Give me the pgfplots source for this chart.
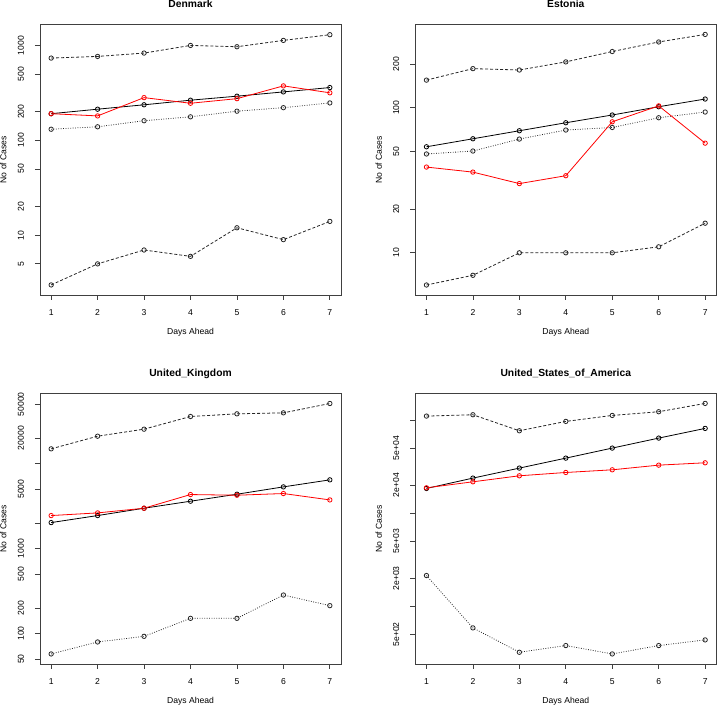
\documentclass[border=0pt]{standalone}
\usepackage{fontspec}
\setmainfont{Liberation Sans}
\usepackage{graphicx}
\usepackage{pgfplots}
\pgfplotsset{compat=1.18}
\newcommand{\yl}[1]{\rotatebox{90}{\fontsize{8.6}{10}\selectfont #1}\hspace*{7.5pt}}
\pgfplotsset{
  scale only axis, width=301pt, height=270.7pt,
  xmin=0.76, xmax=7.24,
  xtick={1,2,3,4,5,6,7}, xticklabels={1,2,3,4,5,6,7},
  tick align=outside, xtick pos=left, ytick pos=left,
  major tick length=5pt,
  axis line style={black!75, line width=0.8pt},
  tick style={black!75, line width=0.8pt},
  label style={font=\fontsize{8.6}{10}\selectfont},
  xlabel style={at={(axis description cs:0.5,0)}, anchor=base, yshift=-40pt},
  ylabel style={at={(axis description cs:-0.1113,0.5)}, anchor=base},
  every axis title shift=0pt,
  title style={at={(axis description cs:0.5,1)}, anchor=base, yshift=16.3pt, font=\bfseries\fontsize{10.3}{12}\selectfont},
}
\tikzset{
 rpt/.style={line width=0.8pt, mark=o, mark size=2.2pt, mark options={solid, fill=white}},
 predl/.style={rpt, black},
 bndl/.style={rpt, black!85, dash pattern=on 3pt off 2pt},
 dotl/.style={rpt, black!85, dash pattern=on 0.8pt off 1.6pt},
 actl/.style={rpt, red},
}
\begin{document}
\begin{tikzpicture}
\useasboundingbox (0,0) rectangle (717pt,706pt);
% Denmark
\begin{axis}[at={(40pt,411pt)}, anchor=south west, title={Denmark},
  xlabel={Days Ahead}, ylabel={No of Cases},
  xticklabel style={font=\fontsize{8.6}{10}\selectfont, anchor=base, yshift=-16pt},
  ymode=log, yminorticks=false,
  ymin=2.35, ymax=1670,
  ytick={5,10,20,50,100,200,500,1000},
  yticklabels={\yl{5},\yl{10},\yl{20},\yl{50},\yl{100},\yl{200},\yl{500},\yl{1000}}]
\addplot[bndl] coordinates {(1,736) (2,766) (3,831) (4,1000) (5,969) (6,1130) (7,1297)};
\addplot[bndl] coordinates {(1,3) (2,5) (3,7) (4,6) (5,12) (6,9) (7,14)};
\addplot[dotl] coordinates {(1,131) (2,139) (3,161) (4,177) (5,203) (6,221) (7,248)};
\addplot[predl] coordinates {(1,191) (2,213) (3,237) (4,265) (5,292) (6,324) (7,360)};
\addplot[actl] coordinates {(1,191) (2,181) (3,282) (4,246) (5,275) (6,375) (7,317)};
\end{axis}
% Estonia
\begin{axis}[at={(415.3pt,411pt)}, anchor=south west, title={Estonia},
  xlabel={Days Ahead}, ylabel={No of Cases},
  xticklabel style={font=\fontsize{8.6}{10}\selectfont, anchor=base, yshift=-16pt},
  ymode=log, yminorticks=false,
  ymin=5.12, ymax=376,
  ytick={10,20,50,100,200},
  yticklabels={\yl{10},\yl{20},\yl{50},\yl{100},\yl{200}}]
\addplot[bndl] coordinates {(1,155) (2,186) (3,182) (4,207) (5,244) (6,284) (7,320)};
\addplot[bndl] coordinates {(1,6) (2,7) (3,10) (4,10) (5,10) (6,11) (7,16)};
\addplot[dotl] coordinates {(1,48) (2,50.3) (3,60.8) (4,70.2) (5,73.1) (6,85.3) (7,93.4)};
\addplot[predl] coordinates {(1,53.8) (2,61.1) (3,69.4) (4,78.8) (5,89.1) (6,101.6) (7,114.8)};
\addplot[actl] coordinates {(1,39) (2,36) (3,30) (4,34) (5,80) (6,103) (7,57)};
\end{axis}
% United Kingdom
\begin{axis}[at={(40pt,42pt)}, anchor=south west, title={United\_Kingdom},
  xlabel={Days Ahead}, ylabel={No of Cases},
  xticklabel style={font=\fontsize{8.6}{10}\selectfont, anchor=base, yshift=-16pt},
  ymode=log, yminorticks=false,
  ymin=43.8, ymax=67300,
  ytick={50,100,200,500,1000,2000,5000,10000,20000,50000},
  yticklabels={\yl{50},\yl{100},\yl{200},\yl{500},\yl{1000},,\yl{5000},,\yl{20000},\yl{50000}}]
\addplot[bndl] coordinates {(1,14930) (2,21040) (3,25450) (4,35890) (5,38560) (6,39620) (7,51050)};
\addplot[dotl] coordinates {(1,57.5) (2,79.6) (3,92.7) (4,151) (5,151) (6,284) (7,213)};
\addplot[predl] coordinates {(1,2024) (2,2448) (3,2986) (4,3611) (5,4365) (6,5326) (7,6442)};
\addplot[actl] coordinates {(1,2448) (2,2631) (3,2986) (4,4326) (5,4248) (6,4446) (7,3742)};
\end{axis}
% United States of America
\begin{axis}[at={(415.3pt,42pt)}, anchor=south west, title={United\_States\_of\_America},
  xlabel={Days Ahead}, ylabel={No of Cases},
  xticklabel style={font=\fontsize{8.6}{10}\selectfont, anchor=base, yshift=-16pt},
  ymode=log, yminorticks=false,
  ymin=241, ymax=193000,
  ytick={500,1000,2000,5000,10000,20000,50000,100000},
  yticklabels={\yl{5e+02},,\yl{2e+03},\yl{5e+03},,\yl{2e+04},\yl{5e+04},}]
\addplot[bndl] coordinates {(1,109900) (2,113600) (3,76500) (4,96400) (5,111700) (6,122400) (7,150300)};
\addplot[dotl] coordinates {(1,2143) (2,588) (3,322) (4,380) (5,309) (6,380) (7,437)};
\addplot[predl] coordinates {(1,18400) (2,23760) (3,30420) (4,38920) (5,49870) (6,63830) (7,81100)};
\addplot[actl] coordinates {(1,18700) (2,21690) (3,25160) (4,27300) (5,29170) (6,32730) (7,34680)};
\end{axis}
\end{tikzpicture}
\end{document}
